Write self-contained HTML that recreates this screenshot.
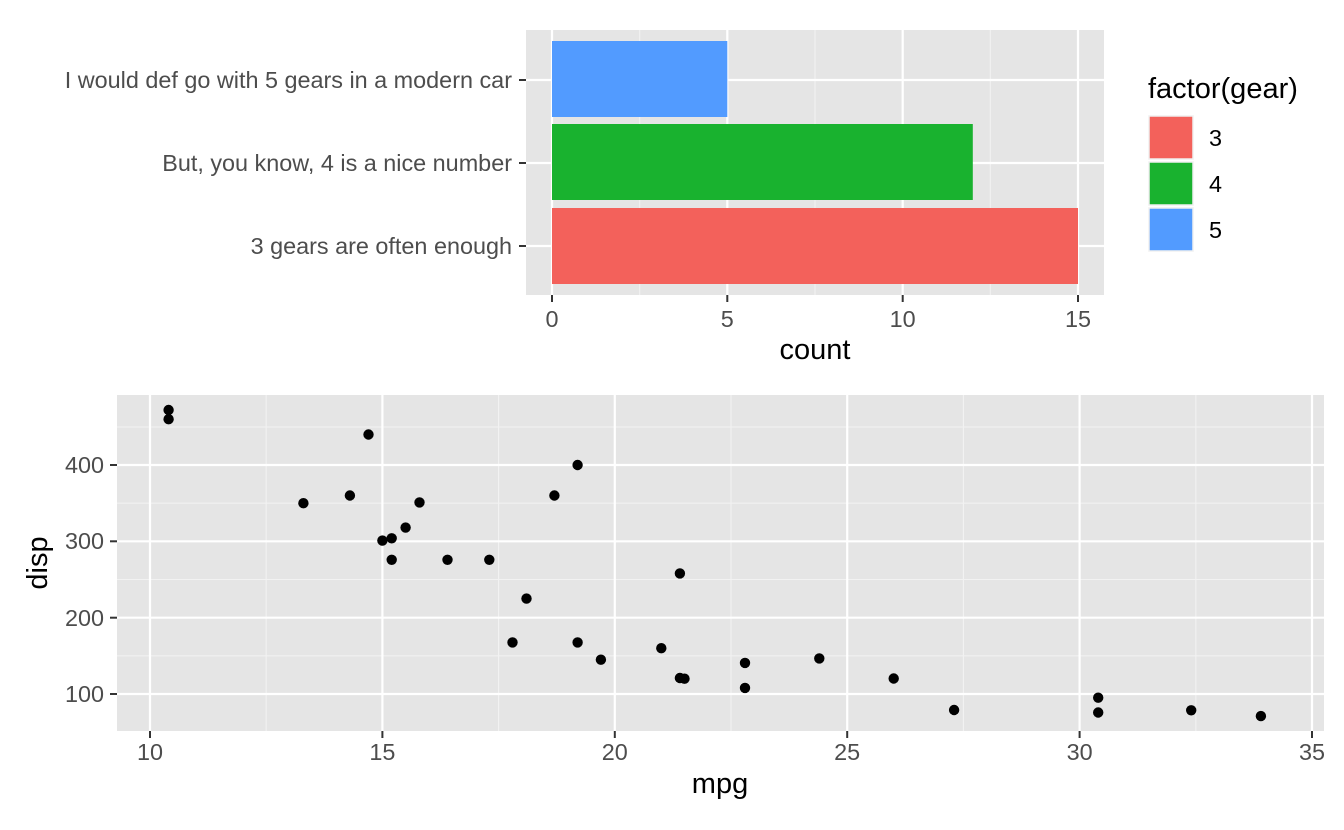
<!DOCTYPE html>
<html><head><meta charset="utf-8"><style>body{margin:0;background:#fff}svg{display:block;font-family:"Liberation Sans",Arial,sans-serif}</style></head><body>
<svg width="1344" height="830" viewBox="0 0 1344 830">
<rect x="526" y="30" width="578" height="265" fill="#e5e5e5"/>
<g stroke="#f2f2f2" stroke-width="1.1">
<line x1="639.7" y1="30" x2="639.7" y2="295"/><line x1="815" y1="30" x2="815" y2="295"/><line x1="990.3" y1="30" x2="990.3" y2="295"/>
</g>
<g stroke="#fff" stroke-width="2.2">
<line x1="552" y1="30" x2="552" y2="295"/><line x1="727.3" y1="30" x2="727.3" y2="295"/><line x1="902.7" y1="30" x2="902.7" y2="295"/><line x1="1078" y1="30" x2="1078" y2="295"/>
<line x1="526" y1="80" x2="1104" y2="80"/><line x1="526" y1="163" x2="1104" y2="163"/><line x1="526" y1="246" x2="1104" y2="246"/>
</g>
<rect x="552" y="41" width="175.3" height="76" fill="#529bff"/>
<rect x="552" y="124" width="420.8" height="76" fill="#19b22f"/>
<rect x="552" y="208" width="526" height="76" fill="#f3615b"/>
<g stroke="#333" stroke-width="2">
<line x1="519" y1="80" x2="526" y2="80"/><line x1="519" y1="163" x2="526" y2="163"/><line x1="519" y1="246" x2="526" y2="246"/>
<line x1="552" y1="295" x2="552" y2="302"/><line x1="727.3" y1="295" x2="727.3" y2="302"/><line x1="902.7" y1="295" x2="902.7" y2="302"/><line x1="1078" y1="295" x2="1078" y2="302"/>
</g>
<g fill="#4d4d4d" font-size="23.4" text-anchor="end">
<text x="512" y="88">I would def go with 5 gears in a modern car</text>
<text x="512" y="171">But, you know, 4 is a nice number</text>
<text x="512" y="254">3 gears are often enough</text>
</g>
<g fill="#4d4d4d" font-size="23.4" text-anchor="middle">
<text x="552" y="327">0</text><text x="727.3" y="327">5</text><text x="902.7" y="327">10</text><text x="1078" y="327">15</text>
</g>
<text x="815" y="359" font-size="29" text-anchor="middle">count</text>
<text x="1148" y="98" font-size="29">factor(gear)</text>
<rect x="1149" y="116" width="44" height="43" fill="#f3615b" stroke="#f0f0f0" stroke-width="1.5"/>
<rect x="1149" y="162" width="44" height="43" fill="#19b22f" stroke="#f0f0f0" stroke-width="1.5"/>
<rect x="1149" y="208" width="44" height="43" fill="#529bff" stroke="#f0f0f0" stroke-width="1.5"/>
<g font-size="23.4"><text x="1209" y="146">3</text><text x="1209" y="192">4</text><text x="1209" y="238">5</text></g>
<rect x="117" y="395" width="1207" height="336" fill="#e5e5e5"/>
<g stroke="#f2f2f2" stroke-width="1.1">
<line x1="266.2" y1="395" x2="266.2" y2="731"/><line x1="498.6" y1="395" x2="498.6" y2="731"/><line x1="731" y1="395" x2="731" y2="731"/><line x1="963.4" y1="395" x2="963.4" y2="731"/><line x1="1195.8" y1="395" x2="1195.8" y2="731"/>
<line x1="117" y1="427" x2="1324" y2="427"/><line x1="117" y1="503.2" x2="1324" y2="503.2"/><line x1="117" y1="579.5" x2="1324" y2="579.5"/><line x1="117" y1="655.8" x2="1324" y2="655.8"/>
</g>
<g stroke="#fff" stroke-width="2.2">
<line x1="150" y1="395" x2="150" y2="731"/><line x1="382.4" y1="395" x2="382.4" y2="731"/><line x1="614.8" y1="395" x2="614.8" y2="731"/><line x1="847.2" y1="395" x2="847.2" y2="731"/><line x1="1079.6" y1="395" x2="1079.6" y2="731"/><line x1="1312" y1="395" x2="1312" y2="731"/>
<line x1="117" y1="465" x2="1324" y2="465"/><line x1="117" y1="541.3" x2="1324" y2="541.3"/><line x1="117" y1="617.7" x2="1324" y2="617.7"/><line x1="117" y1="694" x2="1324" y2="694"/>
</g>
<g stroke="#333" stroke-width="2">
<line x1="110" y1="465" x2="117" y2="465"/><line x1="110" y1="541.3" x2="117" y2="541.3"/><line x1="110" y1="617.7" x2="117" y2="617.7"/><line x1="110" y1="694" x2="117" y2="694"/>
<line x1="150" y1="731" x2="150" y2="738"/><line x1="382.4" y1="731" x2="382.4" y2="738"/><line x1="614.8" y1="731" x2="614.8" y2="738"/><line x1="847.2" y1="731" x2="847.2" y2="738"/><line x1="1079.6" y1="731" x2="1079.6" y2="738"/><line x1="1312" y1="731" x2="1312" y2="738"/>
</g>
<g fill="#4d4d4d" font-size="23.4" text-anchor="end">
<text x="104" y="473">400</text><text x="104" y="549">300</text><text x="104" y="626">200</text><text x="104" y="702">100</text>
</g>
<g fill="#4d4d4d" font-size="23.4" text-anchor="middle">
<text x="150" y="760">10</text><text x="382.4" y="760">15</text><text x="614.8" y="760">20</text><text x="847.2" y="760">25</text><text x="1079.6" y="760">30</text><text x="1312" y="760">35</text>
</g>
<text x="720" y="793" font-size="29" text-anchor="middle">mpg</text>
<text transform="translate(47,563) rotate(-90)" font-size="29" text-anchor="middle">disp</text>
<g fill="#000">
<circle cx="661.3" cy="648.2" r="5.2"/><circle cx="745" cy="687.9" r="5.2"/><circle cx="679.9" cy="573.4" r="5.2"/><circle cx="554.4" cy="495.5" r="5.2"/>
<circle cx="526.5" cy="598.6" r="5.2"/><circle cx="349.9" cy="495.5" r="5.2"/><circle cx="819.3" cy="658.4" r="5.2"/><circle cx="745" cy="662.9" r="5.2"/>
<circle cx="577.6" cy="642.4" r="5.2"/><circle cx="512.5" cy="642.4" r="5.2"/><circle cx="447.5" cy="559.8" r="5.2"/><circle cx="489.3" cy="559.8" r="5.2"/>
<circle cx="391.7" cy="559.8" r="5.2"/><circle cx="168.6" cy="410" r="5.2"/><circle cx="168.6" cy="419.2" r="5.2"/><circle cx="368.5" cy="434.5" r="5.2"/>
<circle cx="1191.2" cy="710.3" r="5.2"/><circle cx="1098.2" cy="712.5" r="5.2"/><circle cx="1260.9" cy="716.1" r="5.2"/><circle cx="684.5" cy="678.7" r="5.2"/>
<circle cx="405.6" cy="527.6" r="5.2"/><circle cx="391.7" cy="538.3" r="5.2"/><circle cx="303.4" cy="503.2" r="5.2"/><circle cx="577.6" cy="465" r="5.2"/>
<circle cx="954.1" cy="710" r="5.2"/><circle cx="893.7" cy="678.5" r="5.2"/><circle cx="1098.2" cy="697.7" r="5.2"/><circle cx="419.5" cy="502.4" r="5.2"/>
<circle cx="600.9" cy="659.7" r="5.2"/><circle cx="382.4" cy="540.6" r="5.2"/><circle cx="679.9" cy="678" r="5.2"/>
</g>
</svg>
</body></html>
